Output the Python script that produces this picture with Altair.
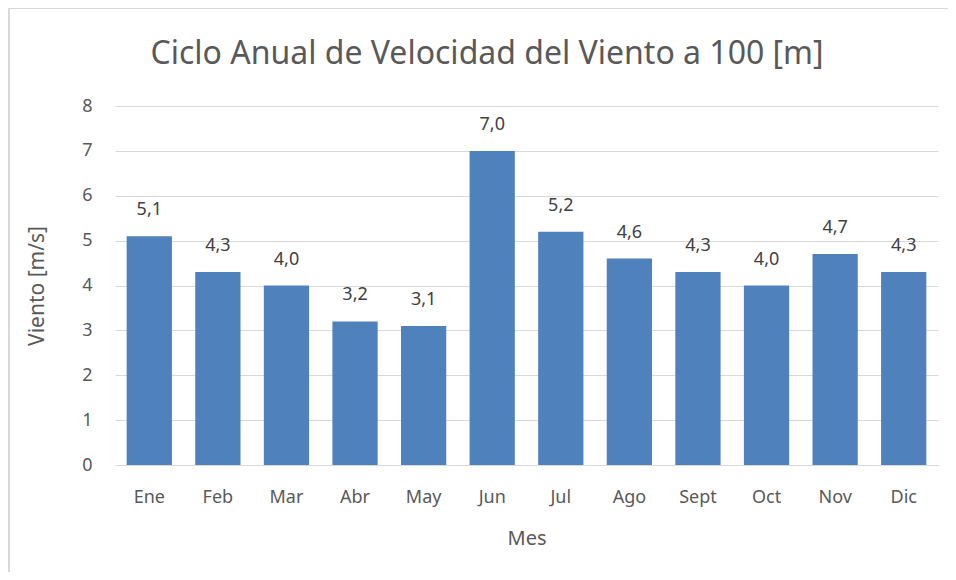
import altair as alt
import pandas as pd

meses = ["Ene", "Feb", "Mar", "Abr", "May", "Jun", "Jul", "Ago", "Sept", "Oct", "Nov", "Dic"]
viento = [5.1, 4.3, 4.0, 3.2, 3.1, 7.0, 5.2, 4.6, 4.3, 4.0, 4.7, 4.3]
y_ticks = [0, 1, 2, 3, 4, 5, 6, 7, 8]
titulo = ["Ciclo Anual de Velocidad del Viento a 100 [m]"]

df = pd.DataFrame({"Mes": meses, "Viento": viento})
df_title = pd.DataFrame({"t": titulo})

FONT = "Noto Sans"
GREY = "#595959"

base = alt.Chart(df)

x_enc = alt.X("Mes:N", sort=meses, title="Mes",
              scale=alt.Scale(paddingInner=0.34, paddingOuter=0.17),
              axis=alt.Axis(labelAngle=0, ticks=False, domainColor="#d9d9d9", labelPadding=23,
                            titlePadding=22, labelFontSize=18, titleFontSize=20))
y_enc = alt.Y("Viento:Q", title="Viento [m/s]",
              scale=alt.Scale(domain=[0, 8], nice=False),
              axis=alt.Axis(values=y_ticks, ticks=False, domain=False, gridColor="#d9d9d9",
                            labelPadding=23, titlePadding=34, labelFontSize=18, titleFontSize=21))

bars = base.mark_bar(color="#4F81BD").encode(x=x_enc, y=y_enc)

labels = base.transform_calculate(
    lab="replace(format(datum.Viento, '.1f'), '.', ',')"
).mark_text(dy=-26, fontSize=18, color="#404040", font=FONT).encode(
    x=alt.X("Mes:N", sort=meses), y="Viento:Q", text="lab:N")

title_mark = alt.Chart(df_title).mark_text(
    fontSize=32, font=FONT, color=GREY, baseline="middle", align="center"
).encode(x=alt.value(372), y=alt.value(-52), text="t:N")

border_left = base.mark_rule(color="#d9d9d9", strokeWidth=1.5).encode(
    x=alt.value(-106), y=alt.value(-98), y2=alt.value(480))
border_top = base.mark_rule(color="#d9d9d9", strokeWidth=1.5).encode(
    x=alt.value(-106), x2=alt.value(840), y=alt.value(-98))

chart = alt.layer(bars, labels, title_mark, border_left, border_top).properties(
    width=823, height=359,
    autosize=alt.AutoSizeParams(type="none"),
    padding={"left": 107, "top": 98, "right": 10, "bottom": 107},
    background="white",
).configure_view(stroke=None).configure_axis(
    labelFont=FONT, titleFont=FONT, labelColor=GREY, titleColor=GREY, titleFontWeight="normal"
)

chart.save("out.html", embed_options={"renderer": "svg", "actions": False})
